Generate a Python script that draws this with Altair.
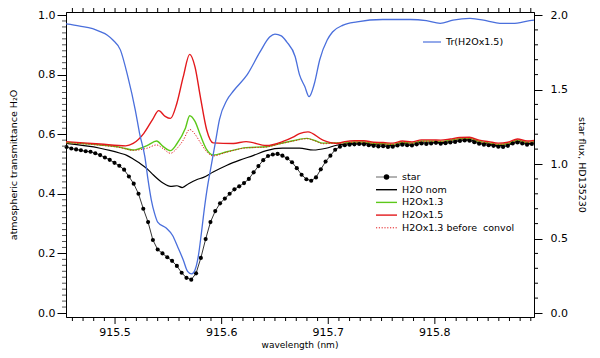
import altair as alt
import pandas as pd

# ---------------- data ----------------
# atmospheric transmittance Tr(H2Ox1.5)  (left axis)
tr_wl = [915.454, 915.467, 915.479, 915.486, 915.4925, 915.498, 915.505, 915.512, 915.519, 915.523,
         915.528, 915.531, 915.534, 915.537, 915.540, 915.548, 915.554, 915.559, 915.564, 915.568,
         915.572, 915.575, 915.578, 915.581, 915.584, 915.587, 915.589, 915.594, 915.598, 915.605,
         915.611, 915.624, 915.636, 915.645, 915.650, 915.656, 915.661, 915.669, 915.673, 915.678,
         915.682, 915.687, 915.692, 915.699, 915.704, 915.714, 915.727, 915.751, 915.777, 915.792,
         915.805, 915.817, 915.833, 915.849, 915.861, 915.873, 915.889, 915.893]
tr_val = [0.970, 0.963, 0.954, 0.944, 0.933, 0.916, 0.883, 0.793, 0.681, 0.603,
          0.524, 0.446, 0.380, 0.335, 0.305, 0.285, 0.260, 0.220, 0.178, 0.140,
          0.131, 0.144, 0.188, 0.268, 0.356, 0.430, 0.470, 0.570, 0.650, 0.715,
          0.745, 0.800, 0.876, 0.926, 0.936, 0.930, 0.910, 0.860, 0.800, 0.760,
          0.726, 0.770, 0.850, 0.916, 0.943, 0.966, 0.977, 0.985, 0.985, 0.981,
          0.972, 0.983, 0.989, 0.980, 0.972, 0.972, 0.981, 0.983]

# star flux HD135230 (right axis)
star_wl = [915.4545, 915.4590, 915.4635, 915.4680, 915.4725, 915.4770, 915.4815, 915.4860, 915.4905, 915.4950,
           915.4995, 915.5040, 915.5085, 915.5130, 915.5175, 915.5220, 915.5265, 915.5310, 915.5355, 915.5400,
           915.5445, 915.5490, 915.5535, 915.5580, 915.5625, 915.5670, 915.5715, 915.5760, 915.5805, 915.5850,
           915.5895, 915.5940, 915.5985, 915.6030, 915.6075, 915.6120, 915.6165, 915.6210, 915.6255, 915.6300,
           915.6345, 915.6390, 915.6435, 915.6480, 915.6525, 915.6570, 915.6615, 915.6660, 915.6705, 915.6750,
           915.6795, 915.6840, 915.6885, 915.6930, 915.6975, 915.7020, 915.7065, 915.7110, 915.7155, 915.7200,
           915.7245, 915.7290, 915.7335, 915.7380, 915.7425, 915.7470, 915.7515, 915.7560, 915.7605, 915.7650,
           915.7695, 915.7740, 915.7785, 915.7830, 915.7875, 915.7920, 915.7965, 915.8010, 915.8055, 915.8100,
           915.8145, 915.8190, 915.8235, 915.8280, 915.8325, 915.8370, 915.8415, 915.8460, 915.8505, 915.8550,
           915.8595, 915.8640, 915.8685, 915.8730, 915.8775, 915.8820, 915.8865, 915.8910]
star_flux = [1.114, 1.104, 1.098, 1.092, 1.086, 1.082, 1.072, 1.060, 1.044, 1.028,
             1.008, 0.988, 0.962, 0.916, 0.868, 0.800, 0.700, 0.610, 0.490, 0.426,
             0.400, 0.374, 0.350, 0.316, 0.270, 0.236, 0.224, 0.266, 0.370, 0.496,
             0.610, 0.684, 0.736, 0.768, 0.800, 0.830, 0.850, 0.872, 0.900, 0.944,
             0.986, 1.026, 1.054, 1.064, 1.068, 1.056, 1.038, 1.012, 0.972, 0.928,
             0.898, 0.888, 0.910, 0.964, 1.016, 1.056, 1.096, 1.116, 1.126, 1.130,
             1.132, 1.134, 1.132, 1.126, 1.122, 1.118, 1.120, 1.114, 1.116, 1.124,
             1.130, 1.126, 1.124, 1.132, 1.138, 1.134, 1.138, 1.142, 1.136, 1.140,
             1.144, 1.148, 1.154, 1.158, 1.156, 1.146, 1.136, 1.130, 1.126, 1.122,
             1.116, 1.114, 1.122, 1.138, 1.144, 1.138, 1.130, 1.134]

right_wl = [915.7155, 915.7245, 915.7335, 915.7425, 915.7515, 915.7605, 915.7695, 915.7785, 915.7875, 915.7965,
            915.8055, 915.8145, 915.8235, 915.8325, 915.8415, 915.8505, 915.8595, 915.8685, 915.8775, 915.8865,
            915.893]

nom_wl = [915.454, 915.486, 915.495, 915.505, 915.511, 915.517, 915.523, 915.530, 915.536, 915.545,
          915.552, 915.558, 915.563, 915.569, 915.577, 915.583, 915.592, 915.605, 915.617, 915.630,
          915.642, 915.657, 915.673, 915.686, 915.698, 915.708] + right_wl
nom_flux = [1.138, 1.106, 1.092, 1.072, 1.058, 1.034, 1.006, 0.968, 0.926, 0.872,
            0.850, 0.854, 0.842, 0.868, 0.896, 0.910, 0.946, 0.992, 1.026, 1.058,
            1.090, 1.106, 1.106, 1.094, 1.106, 1.126,
            1.134, 1.140, 1.140, 1.130, 1.128, 1.124, 1.138, 1.132, 1.146, 1.146,
            1.144, 1.152, 1.162, 1.164, 1.144, 1.134, 1.124, 1.130, 1.152, 1.138, 1.142]

h13_wl = [915.454, 915.486, 915.505, 915.517, 915.530, 915.539, 915.545, 915.552, 915.558, 915.566,
          915.570, 915.575, 915.580, 915.586, 915.592, 915.605, 915.623, 915.642, 915.655, 915.667,
          915.680, 915.688, 915.695, 915.708] + right_wl
h13_flux = [1.144, 1.128, 1.112, 1.094, 1.124, 1.154, 1.118, 1.090, 1.136, 1.240,
            1.324, 1.286, 1.194, 1.096, 1.060, 1.082, 1.110, 1.116, 1.138, 1.156,
            1.172, 1.156, 1.140, 1.142,
            1.142, 1.148, 1.148, 1.138, 1.136, 1.132, 1.146, 1.140, 1.154, 1.154,
            1.152, 1.160, 1.170, 1.172, 1.152, 1.142, 1.132, 1.138, 1.160, 1.146, 1.150]

raw_wl = [915.454, 915.486, 915.505, 915.517, 915.530, 915.539, 915.545, 915.552, 915.558, 915.564,
          915.570, 915.575, 915.580, 915.586, 915.592, 915.605, 915.623, 915.642, 915.655, 915.667,
          915.680, 915.688, 915.695, 915.708] + right_wl
raw_flux = [1.142, 1.126, 1.110, 1.092, 1.106, 1.128, 1.104, 1.072, 1.104, 1.160,
            1.232, 1.200, 1.144, 1.082, 1.054, 1.080, 1.108, 1.114, 1.136, 1.154,
            1.170, 1.154, 1.136, 1.140,
            1.140, 1.146, 1.146, 1.136, 1.134, 1.130, 1.144, 1.138, 1.152, 1.152,
            1.150, 1.158, 1.168, 1.170, 1.150, 1.140, 1.130, 1.136, 1.158, 1.144, 1.148]

h15_wl = [915.454, 915.486, 915.510, 915.517, 915.527, 915.535, 915.541, 915.547, 915.552, 915.558,
          915.564, 915.570, 915.575, 915.580, 915.586, 915.592, 915.611, 915.623, 915.642, 915.657,
          915.667, 915.673, 915.681, 915.695, 915.708] + right_wl
h15_flux = [1.150, 1.134, 1.122, 1.138, 1.206, 1.296, 1.358, 1.320, 1.306, 1.408,
            1.586, 1.736, 1.652, 1.452, 1.228, 1.142, 1.138, 1.150, 1.124, 1.150,
            1.180, 1.204, 1.216, 1.160, 1.138,
            1.150, 1.156, 1.156, 1.146, 1.144, 1.140, 1.154, 1.148, 1.162, 1.162,
            1.160, 1.168, 1.178, 1.180, 1.160, 1.150, 1.140, 1.146, 1.168, 1.154, 1.158]

legend_names = ["star", "H2O nom", "H2Ox1.3", "H2Ox1.5", "H2Ox1.3 before\u00a0 convol"]
tr_name = "Tr(H2Ox1.5)"
x_title = "wavelength (nm)"

# tick positions / labels
x_major = [915.5, 915.6, 915.7, 915.8]
x_labels = ["915.5", "915.6", "915.7", "915.8"]
x_minor = [v for v in (round(915.46 + 0.01 * i, 2) for i in range(44)) if v not in x_major]
yl_major = [0.0, 0.2, 0.4, 0.6, 0.8, 1.0]
yl_minor = [v for v in (round(0.02 * i, 2) for i in range(51)) if v not in yl_major]
yr_major = [0.0, 0.5, 1.0, 1.5, 2.0]
yr_minor = [v for v in (round(0.1 * i, 1) for i in range(21)) if v not in yr_major]

# ---------------- styles ----------------
FONT = "DejaVu Sans"
BLUE = "#4a6fdc"
GREEN = "#5cc81a"
RED = "#e3191c"
BLACK = "#000000"
W, H = 468, 305

xs = alt.Scale(domain=[915.454, 915.893], nice=False, zero=False)
yls = alt.Scale(domain=[-0.0134, 1.0101], nice=False, zero=False)
yrs = alt.Scale(domain=[-0.0268, 2.0202], nice=False, zero=False)

common = dict(grid=False, domainColor=BLACK, domainWidth=1, tickColor=BLACK, tickWidth=1,
              labelFont=FONT, labelFontSize=11, labelColor=BLACK, labelOverlap=False,
              titleFont=FONT, titleFontSize=9.5,
              titleFontWeight="normal", titleColor=BLACK, format=".1f")

left_axis = alt.Axis(orient="left", values=yl_major, tickSize=9, labelPadding=2,
                     title="atmospheric transmittance H\u2082O",
                     titleX=-48, titleY=H / 2, titleAngle=270, **common)
right_axis = alt.Axis(orient="right", values=yr_major, tickSize=8, labelPadding=8,
                      title="star flux, HD135230",
                      titleX=42, titleY=H / 2, titleAngle=90, **common)

# ---------------- frames ----------------
tr_df = pd.DataFrame({"wl": tr_wl, "v": tr_val})
star_df = pd.DataFrame({"wl": star_wl, "f": star_flux})
nom_df = pd.DataFrame({"wl": nom_wl, "f": nom_flux})
h13_df = pd.DataFrame({"wl": h13_wl, "f": h13_flux})
raw_df = pd.DataFrame({"wl": raw_wl, "f": raw_flux})
h15_df = pd.DataFrame({"wl": h15_wl, "f": h15_flux})
xlab_df = pd.DataFrame({"t": x_major, "lab": x_labels})
one = alt.Data(values=[{"k": 0}])


def xtick_rules(vals, y0, y1):
    return alt.Chart(pd.DataFrame({"t": vals})).mark_rule(color=BLACK, strokeWidth=1).encode(
        x=alt.X("t:Q", scale=xs, axis=None), y=alt.value(y0), y2=alt.value(y1))


def ytick_rules(vals, scale, x0, x1, color=BLACK):
    return alt.Chart(pd.DataFrame({"t": vals})).mark_rule(color=color, strokeWidth=1).encode(
        y=alt.Y("t:Q", scale=scale, axis=None), x=alt.value(x0), x2=alt.value(x1))


def flux_line(df, color, width, dash=None, interp="monotone"):
    kw = dict(color=color, strokeWidth=width, interpolate=interp)
    if dash:
        kw["strokeDash"] = dash
    return alt.Chart(df).mark_line(**kw).encode(
        x=alt.X("wl:Q", scale=xs, axis=None),
        y=alt.Y("f:Q", scale=yrs, axis=None),
    )


# star flux, carrying the right axis
star_line = alt.Chart(star_df).mark_line(color=BLACK, strokeWidth=0.8).encode(
    x=alt.X("wl:Q", scale=xs, axis=None),
    y=alt.Y("f:Q", scale=yrs, axis=right_axis),
)
star_pts = alt.Chart(star_df).mark_circle(color=BLACK, size=17, opacity=1).encode(
    x=alt.X("wl:Q", scale=xs, axis=None),
    y=alt.Y("f:Q", scale=yrs, axis=None),
)
nom_line = flux_line(nom_df, BLACK, 1.2)
h13_line = flux_line(h13_df, GREEN, 1.4)
h15_line = flux_line(h15_df, RED, 1.4)
raw_line = flux_line(raw_df, RED, 1.0, [1.2, 1.6])

# transmittance, carrying the left axis
blue = alt.Chart(tr_df).mark_line(color=BLUE, strokeWidth=1.3, interpolate="monotone").encode(
    x=alt.X("wl:Q", scale=xs, axis=None),
    y=alt.Y("v:Q", scale=yls, axis=left_axis),
)

# wavelength axis (bottom) and mirrored ticks (top)
left_minor = ytick_rules(yl_minor, yls, 0, -4, "#555555")
right_minor = ytick_rules(yr_minor, yrs, W, W + 4)
bottom_minor = xtick_rules(x_minor, H, H + 4)
bottom_major = xtick_rules(x_major, H, H + 7)
top_minor = xtick_rules(x_minor, 0, -4)
top_major = xtick_rules(x_major, 0, -7)
x_tick_labels = alt.Chart(xlab_df).mark_text(align="center", baseline="middle", font=FONT,
                                             fontSize=11, color=BLACK).encode(
    x=alt.X("t:Q", scale=xs, axis=None), y=alt.value(H + 16), text="lab:N")
x_axis_title = alt.Chart(one).mark_text(align="center", baseline="middle", font=FONT,
                                        fontSize=9, color=BLACK).encode(
    x=alt.value(W / 2), y=alt.value(H + 28), text=alt.value(x_title))

# legends
legend = []
legend.append(alt.Chart(one).mark_rule(color=BLUE, strokeWidth=1.2).encode(
    x=alt.value(357), x2=alt.value(375), y=alt.value(30)))
legend.append(alt.Chart(one).mark_text(align="left", baseline="middle", font=FONT,
                                       fontSize=9.5, color=BLACK).encode(
    x=alt.value(380), y=alt.value(30), text=alt.value(tr_name)))
rows_y = [165, 177.7, 190.4, 203.1, 215.8]
leg_styles = [("#666666", 1.0, None), (BLACK, 1.4, None), (GREEN, 1.4, None),
              (RED, 1.4, None), (RED, 1.0, [1.2, 1.6])]
for name, yy, (col, w, dash) in zip(legend_names, rows_y, leg_styles):
    kw = dict(color=col, strokeWidth=w)
    if dash:
        kw["strokeDash"] = dash
    legend.append(alt.Chart(one).mark_rule(**kw).encode(
        x=alt.value(310), x2=alt.value(331), y=alt.value(yy)))
    legend.append(alt.Chart(one).mark_text(align="left", baseline="middle", font=FONT,
                                           fontSize=9.5, color=BLACK).encode(
        x=alt.value(336), y=alt.value(yy), text=alt.value(name)))
legend.append(alt.Chart(one).mark_circle(color=BLACK, size=30, opacity=1).encode(
    x=alt.value(320.5), y=alt.value(rows_y[0])))

chart = alt.layer(
    star_line, nom_line, h13_line, raw_line, h15_line, star_pts, blue,
    left_minor, right_minor, bottom_minor, bottom_major, top_minor, top_major,
    x_tick_labels, x_axis_title, *legend
).resolve_scale(y="independent").properties(
    width=W, height=H,
    autosize=alt.AutoSizeParams(type="none"),
    padding={"left": 58, "top": 4, "right": 58, "bottom": 33},
    background="white",
).configure_view(stroke=BLACK, strokeWidth=1)

chart.save("out.html", embed_options={"renderer": "svg", "actions": False})
